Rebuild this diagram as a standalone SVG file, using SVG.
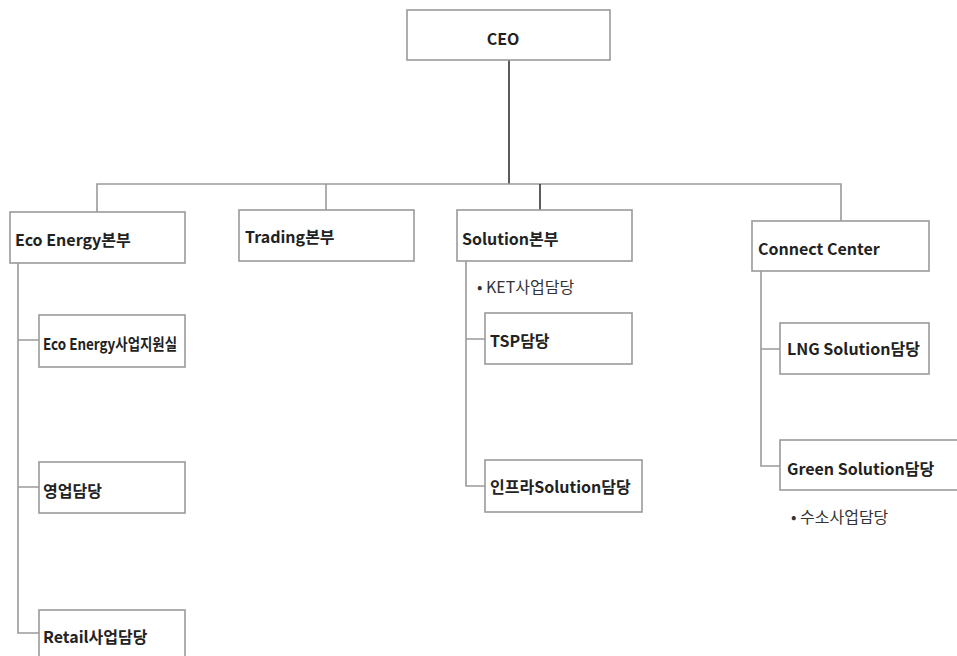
<svg xmlns="http://www.w3.org/2000/svg" width="957" height="656" viewBox="0 0 957 656">
<style>
.box{fill:#fff;stroke:#9a9a9a;stroke-width:1.6}
.t{font-family:"Noto Sans CJK KR","Noto Sans",sans-serif;font-size:16px;font-weight:700;fill:#222}
.n{font-family:"Noto Sans CJK KR","Noto Sans",sans-serif;font-size:16px;font-weight:400;fill:#333}
.c{fill:none;stroke:#9a9a9a;stroke-width:1.6}
.d{fill:none;stroke:#333;stroke-width:1.6}
</style>
<rect width="957" height="656" fill="#fff"/>
<g id="connectors">
<path class="d" d="M509 60V184"/>
<path class="c" d="M97 212V184H841V221"/>
<path class="c" d="M326 184V210"/>
<path class="d" d="M540 184V210"/>
<path class="c" d="M18 263V633H39M18 340H39M18 487H39"/>
<path class="c" d="M466 261V486H485M466 339H485"/>
<path class="c" d="M761 271V466H780M761 349H780"/>
</g>
<g id="ceo"><rect class="box" x="407" y="10" width="203" height="50"/><text class="t" x="503" y="45" text-anchor="middle">CEO</text></g>
<g id="eco"><rect class="box" x="10" y="212" width="175" height="51"/><text class="t" x="15" y="246">Eco Energy본부</text></g>
<g id="trading"><rect class="box" x="239" y="210" width="175" height="51"/><text class="t" x="245" y="243">Trading본부</text></g>
<g id="solution"><rect class="box" x="457" y="210" width="175" height="51"/><text class="t" x="462" y="245">Solution본부</text></g>
<g id="connect"><rect class="box" x="752" y="221" width="177" height="50"/><text class="t" x="758" y="255">Connect Center</text></g>
<g id="ket"><text class="n" x="477" y="293">• KET사업담당</text></g>
<g id="tsp"><rect class="box" x="485" y="313" width="147" height="51"/><text class="t" x="490" y="347">TSP담당</text></g>
<g id="infra"><rect class="box" x="485" y="460" width="157" height="52"/><text class="t" x="490" y="493">인프라Solution담당</text></g>
<g id="lng"><rect class="box" x="780" y="323" width="149" height="51"/><text class="t" x="787" y="355">LNG Solution담당</text></g>
<g id="green"><rect class="box" x="780" y="440" width="180" height="50"/><text class="t" x="787" y="475">Green Solution담당</text></g>
<g id="hydrogen"><text class="n" x="791" y="523">• 수소사업담당</text></g>
<g id="eco-support"><rect class="box" x="39" y="315" width="146" height="52"/><text class="t" x="43" y="350" textLength="134" lengthAdjust="spacingAndGlyphs">Eco Energy사업지원실</text></g>
<g id="sales"><rect class="box" x="39" y="462" width="146" height="51"/><text class="t" x="43" y="497">영업담당</text></g>
<g id="retail"><rect class="box" x="39" y="610" width="146" height="60"/><text class="t" x="43" y="643">Retail사업담당</text></g>
</svg>
